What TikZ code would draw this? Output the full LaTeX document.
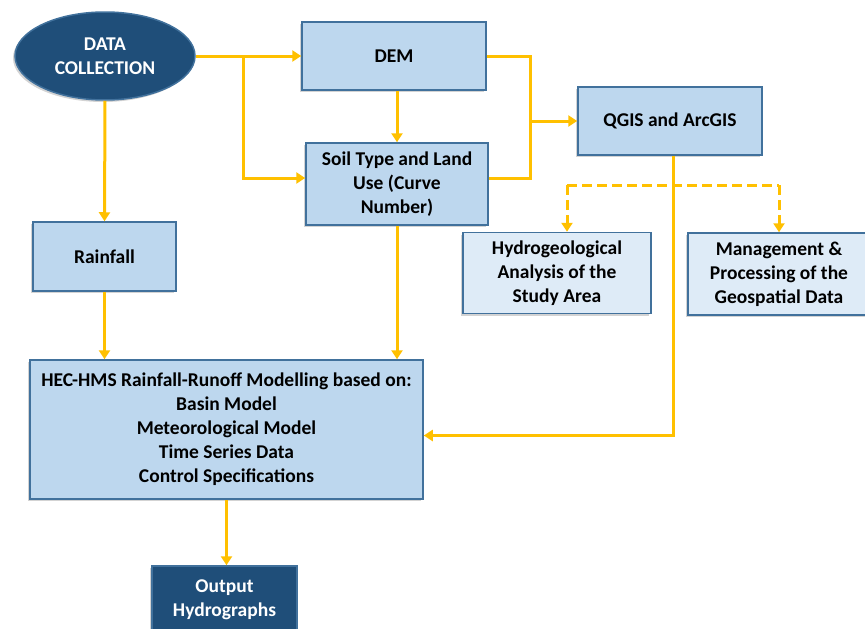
\documentclass[tikz,border=0pt]{standalone}
\usepackage{fontspec}
\setmainfont{Carlito}
\usetikzlibrary{shapes.geometric,arrows.meta,shadows}
\begin{document}
\begin{tikzpicture}[x=1pt, y={(0pt,-1pt)}]
\definecolor{myyellow}{HTML}{FFC000}
\definecolor{blue1}{HTML}{1F4E79}
\definecolor{blue2}{HTML}{41719C}
\definecolor{myblue}{HTML}{BDD7EE}
\definecolor{mylight}{HTML}{DEEBF7}
\tikzset{
	box/.style={
		shape=rectangle,
		align=center,
		inner sep=2pt,
		font=\bfseries\fontsize{19.5}{24}\selectfont,
		line width=1.5pt,
		draw=blue2,
		fill=myblue,
		drop shadow={shadow xshift=-2pt, shadow yshift=-2pt, opacity=0.35},
	},
	lightbox/.style={box, fill=mylight},
	darkbox/.style={box, fill=blue1, text=white},
	link/.style={line width=3pt, myyellow},
	arr/.style={link, -{Triangle[length=9pt,width=11pt]}},
	dasharr/.style={arr, dash pattern=on 10pt off 5pt},
}
\useasboundingbox (0,0) rectangle (865,629);

\node[darkbox, ellipse, minimum width=180pt, minimum height=88pt] (data) at (105,56) {DATA\\COLLECTION};
\node[box, minimum width=184pt, minimum height=68pt] (dem) at (394,56) {DEM};
\node[box, minimum width=182pt, minimum height=82pt] (soil) at (397,184) {Soil Type and Land\\Use (Curve\\Number)};
\node[box, minimum width=184pt, minimum height=68pt] (qgis) at (670,121) {QGIS and ArcGIS};
\node[lightbox, minimum width=188pt, minimum height=81pt] (hydro) at (557,273) {Hydrogeological\\Analysis of the\\Study Area};
\node[lightbox, minimum width=182pt, minimum height=82pt] (mgmt) at (779,274) {Management \&\\Processing of the\\Geospatial Data};
\node[box, minimum width=143pt, minimum height=69pt] (rain) at (104.5,256.5) {Rainfall};
\node[box, minimum width=393pt, minimum height=139pt] (hec) at (226.5,429.5) {HEC-HMS Rainfall-Runoff Modelling based on:\\Basin Model\\Meteorological Model\\Time Series Data\\Control Specifications};
\node[darkbox, minimum width=145pt, minimum height=68pt] (out) at (224.5,600) {Output\\Hydrographs};

\coordinate (j1) at (243,56);
\coordinate (j2) at (530,121);
\coordinate (dl) at (567,185);
\coordinate (dr) at (779,185);

\begin{scope}
\draw[arr] (data.east) -- (dem.west);
\draw[arr] (j1) |- ([yshift=6pt]soil.west);
\draw[arr] (data.south) -- (rain.north);
\draw[arr] (soil.north |- dem.south) -- (soil.north);
\draw[link] (dem.east) -| (j2);
\draw[link] ([yshift=6pt]soil.east) -| (j2);
\draw[arr] (j2) -- (qgis.west);
\draw[arr] ([xshift=3pt]qgis.south) |- ([yshift=-6pt]hec.east);
\draw[link, dash pattern=on 10pt off 5pt] (dl) -- (dr);
\draw[dasharr] (dl) -- (dl |- hydro.north);
\draw[dasharr] (dr) -- (mgmt.north);
\draw[arr] (rain.south) -- (rain.south |- hec.north);
\draw[arr] (soil.south) -- (soil.south |- hec.north);
\draw[arr] (hec.south) -- (hec.south |- out.north);
\end{scope}
\end{tikzpicture}
\end{document}
